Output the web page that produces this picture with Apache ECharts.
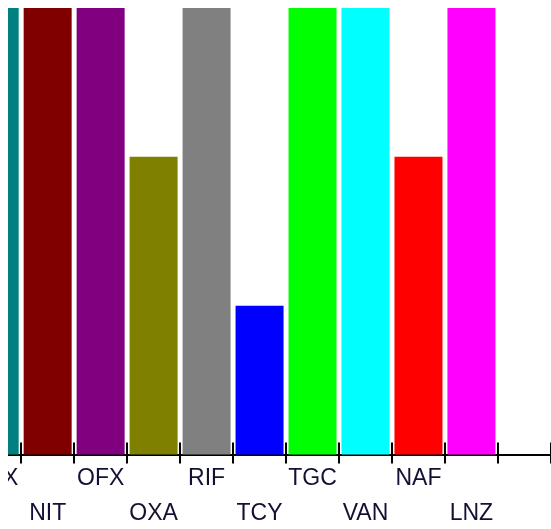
<!DOCTYPE html>
<html>
<head>
<meta charset="utf-8">
<title>Antibiotic panel</title>
<script src="https://cdn.jsdelivr.net/npm/echarts@6/dist/echarts.min.js"></script>
<style>
  html, body { margin: 0; padding: 0; background: #fff; overflow: hidden; }
  #wrap { position: absolute; left: 8px; top: 8px; width: 543px; height: 521px; overflow: hidden; background: #fff; }
  #chart { position: absolute; left: -40px; top: 0; width: 590px; height: 521px; }
</style>
</head>
<body>
<div id="wrap"><div id="chart"></div></div>
<script>
// Antibiotic codes along the x axis (the last slot is left blank)
const categories = ['FOX', 'NIT', 'OFX', 'OXA', 'RIF', 'TCY', 'TGC', 'VAN', 'NAF', 'LNZ', ''];
// Bar heights per antibiotic
const values = [3, 3, 3, 2, 3, 1, 3, 3, 2, 3, null];
// Fill colour per bar
const barColors = ['#008080', '#800000', '#800080', '#808000', '#808080', '#0000ff',
                   '#00ff00', '#00ffff', '#ff0000', '#ff00ff', '#ffffff'];
const yMax = 3;

const chart = echarts.init(document.getElementById('chart'), null, { renderer: 'canvas' });

const labelStyle = {
  interval: 0,
  margin: 6,
  fontFamily: 'Liberation Sans, Arial, sans-serif',
  fontSize: 23,
  lineHeight: 35.5,
  color: '#111133',
  // alternate labels between two rows
  formatter: (v, i) => (i % 2 === 1 ? '\n' + v : v)
};

chart.setOption({
  animation: false,
  backgroundColor: '#fff',
  grid: {
    left: 0.2, right: 7.1, top: 0, bottom: 74.5,
    containLabel: false,
    outerBoundsMode: 'none'
  },
  xAxis: [
    {
      type: 'category',
      data: categories,
      position: 'bottom',
      boundaryGap: true,
      axisLine: { show: true, lineStyle: { color: '#000', width: 2 } },
      axisTick: { show: true, inside: false, length: 9, lineStyle: { color: '#000', width: 2 } },
      axisLabel: labelStyle,
      splitLine: { show: false }
    },
    {
      type: 'category',
      data: categories,
      position: 'bottom',
      boundaryGap: true,
      axisLine: { show: false },
      axisTick: { show: true, inside: true, length: 12, lineStyle: { color: '#000', width: 2 } },
      axisLabel: { show: false },
      splitLine: { show: false }
    }
  ],
  yAxis: {
    type: 'value',
    min: 0,
    max: yMax,
    show: false,
    splitLine: { show: false }
  },
  series: [{
    type: 'bar',
    xAxisIndex: 0,
    barWidth: 48,
    data: values.map((v, i) => ({ value: v, itemStyle: { color: barColors[i] } })),
    itemStyle: { borderWidth: 0 }
  }]
});
</script>
</body>
</html>
